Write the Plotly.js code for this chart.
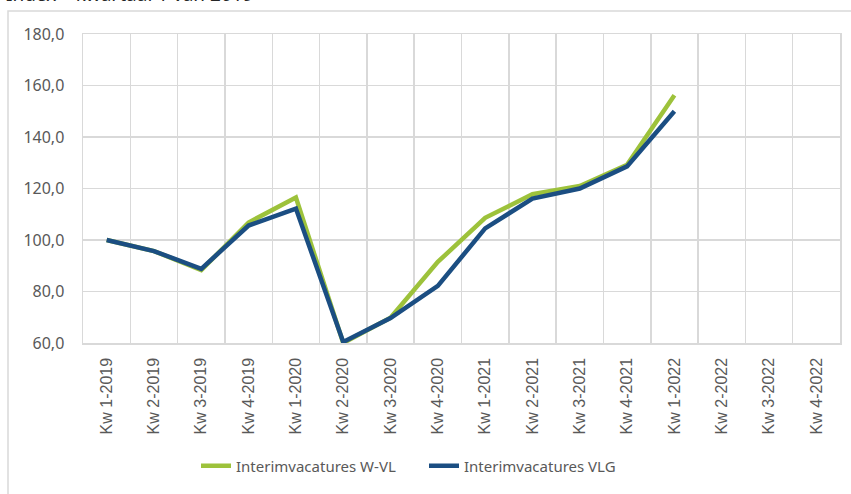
<!DOCTYPE html>
<html>
<head>
<meta charset="utf-8">
<script src="https://cdn.plot.ly/plotly-3.0.1.min.js"></script>
<style>
  html, body { margin: 0; padding: 0; background: #ffffff; }
  #chart { width: 851px; height: 494px; }
</style>
</head>
<body>
<div id="chart"></div>
<script>
const categories = [
  "Kw 1-2019", "Kw 2-2019", "Kw 3-2019", "Kw 4-2019",
  "Kw 1-2020", "Kw 2-2020", "Kw 3-2020", "Kw 4-2020",
  "Kw 1-2021", "Kw 2-2021", "Kw 3-2021", "Kw 4-2021",
  "Kw 1-2022", "Kw 2-2022", "Kw 3-2022", "Kw 4-2022"
];
const seriesWVL = [100.0, 95.7, 88.3, 106.8, 116.5, 60.0, 69.8, 91.5, 108.6, 117.8, 121.0, 129.2, 156.2, null, null, null];
const seriesVLG = [100.0, 95.7, 88.8, 105.6, 112.2, 60.4, 69.7, 82.2, 104.5, 116.1, 120.0, 128.6, 150.0, null, null, null];
const seriesNames = ["Interimvacatures W-VL", "Interimvacatures VLG"];
const titleText = "Index – kwartaal 1 van 2019";

const gridColor = "#d9d9d9";
const textColor = "#595959";

const traces = [
  {
    x: categories, y: seriesWVL, name: seriesNames[0], type: "scatter", mode: "lines",
    line: { color: "#9dc23b", width: 4.5 }, connectgaps: false, hoverinfo: "skip"
  },
  {
    x: categories, y: seriesVLG, name: seriesNames[1], type: "scatter", mode: "lines",
    line: { color: "#1b4e82", width: 4.5 }, connectgaps: false, hoverinfo: "skip"
  }
];

const plotH = 494 - 34 - 151;
const plotW = 851 - 83 - 11;

const layout = {
  width: 851, height: 494,
  margin: { l: 83, r: 11, t: 34, b: 151 },
  paper_bgcolor: "#ffffff", plot_bgcolor: "#ffffff",
  separators: ", ",
  font: { family: "Noto Sans, sans-serif", color: textColor },
  showlegend: true,
  legend: {
    orientation: "h", x: (196 - 83) / plotW, xanchor: "left",
    y: (343 - 466) / plotH, yanchor: "middle",
    font: { size: 15, color: textColor, family: "Noto Sans, sans-serif" },
    entrywidthmode: "pixels", entrywidth: 183,
    itemwidth: 30, tracegroupgap: 0, bgcolor: "rgba(0,0,0,0)"
  },
  xaxis: {
    type: "category", range: [-0.5, 15.5], tickson: "boundaries",
    showgrid: true, gridcolor: gridColor, gridwidth: 1.5,
    showline: true, linecolor: gridColor, linewidth: 1.5, mirror: true,
    ticks: "", tickangle: -90, ticklabelstandoff: 7,
    tickfont: { size: 16, color: textColor, family: "Liberation Sans, Arial, sans-serif" },
    fixedrange: true
  },
  yaxis: {
    range: [60, 180], dtick: 20, tick0: 60, tickformat: ".1f",
    showgrid: true, gridcolor: gridColor, gridwidth: 1.5, zeroline: false,
    showline: true, linecolor: gridColor, linewidth: 1.5, mirror: true,
    ticks: "", ticklabelstandoff: 14,
    tickfont: { size: 16, color: textColor, family: "Noto Sans, sans-serif" },
    fixedrange: true
  },
  shapes: [
    {
      type: "rect", xref: "paper", yref: "paper",
      x0: (8 - 83) / plotW, x1: (860 - 83) / plotW,
      y0: (343 - 500) / plotH, y1: 1 + (34 - 11) / plotH,
      line: { color: gridColor, width: 1.5 }, fillcolor: "rgba(0,0,0,0)", layer: "below"
    }
  ],
  annotations: [
    {
      text: titleText, xref: "paper", yref: "paper",
      x: (4 - 83) / plotW, xanchor: "left",
      y: 1 + (34 - 9) / plotH, yanchor: "bottom",
      showarrow: false, font: { size: 19, color: "#262626", family: "Noto Sans, sans-serif" }
    }
  ]
};

Plotly.newPlot("chart", traces, layout, { staticPlot: true, displayModeBar: false });
</script>
</body>
</html>
